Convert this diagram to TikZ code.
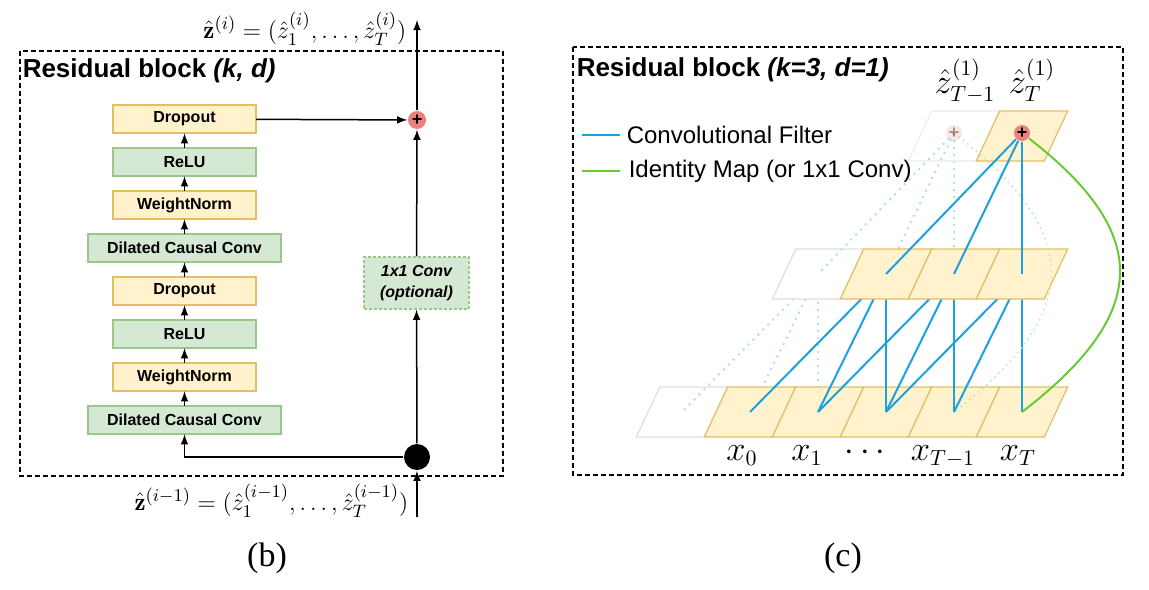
\documentclass[tikz,border=0pt]{standalone}
\usepackage{fontspec}
\usepackage{amsmath}
\usetikzlibrary{scopes,chains,positioning,calc}
\newfontfamily\helv{Liberation Sans}
\newfontfamily\capfont{Liberation Serif}
\definecolor{yfill}{HTML}{FFF2CC}
\definecolor{yline}{HTML}{E3BE62}
\definecolor{gfill}{HTML}{D5E8D4}
\definecolor{gline}{HTML}{9CC78B}
\definecolor{addred}{HTML}{E9817D}
\definecolor{convblue}{HTML}{1BA1E2}
\definecolor{idgreen}{HTML}{66CC33}
\def\drawcell#1{
   \draw[#1] (-45.7,25) -- ++(68,0) -- ++(23.4,-50) -- ++(-68,0) -- cycle;
 }
\begin{document}
\begin{tikzpicture}[x=0.5pt, y=-0.5pt,
    line width    = 0.75pt,
    >             = latex,
    node distance = 7.25pt,
    lay/.style   = { draw, line width=1pt, minimum height=14.25pt, inner sep=0pt,
                     outer sep=0pt, font=\helv\bfseries\fontsize{8}{9}\selectfont, on chain },
    ylay/.style  = { lay, fill=yfill, draw=yline, minimum width=71.5pt },
    glay/.style  = { lay, fill=gfill, draw=gline, minimum width=71.5pt },
    glay wide/.style = { glay, minimum width=96.5pt },
    optconv/.style = { draw=gline, fill=gfill, dash pattern=on 1.5pt off 1pt,
                     minimum width=52.5pt, minimum height=26pt, align=center, inner sep=0pt,
                     font=\helv\bfseries\itshape\fontsize{8}{10.5}\selectfont },
    adder/.style = { circle, fill=addred, minimum size=9pt, inner sep=0pt,
                     font=\helv\bfseries\fontsize{9}{9}\selectfont },
    fork/.style  = { circle, fill=black, minimum size=13pt, inner sep=0pt },
    blockframe/.style = { line width=1pt, dash pattern=on 2.4pt off 1.6pt },
    title/.style = { anchor=west, inner sep=0pt, font=\helv\bfseries\fontsize{13}{15}\selectfont },
    legtext/.style = { anchor=west, inner sep=0pt, font=\helv\fontsize{12}{14}\selectfont },
    mathlbl/.style = { inner sep=0pt, font=\fontsize{12.5}{14}\selectfont },
    zlbl/.style  = { anchor=base, inner sep=0pt, font=\fontsize{16}{18}\selectfont },
    caption/.style = { font=\capfont\fontsize{17}{20}\selectfont },
    % cells of the dilated convolution
    ycell/.style = { draw=yline, fill=yfill, line width=0.6pt },
    wcell/.style = { draw=black!13, line width=0.6pt },
    conv line/.style  = { convblue, line width=1pt },
    conv ghost/.style = { convblue!35, line width=1pt, dash pattern=on 1pt off 2.5pt },
    id line/.style    = { idgreen, line width=1pt },
    id ghost/.style   = { idgreen!40, line width=0.8pt, dash pattern=on 0.8pt off 2pt }
]
\useasboundingbox (0,0) rectangle (1149,589);

%% (b) residual block
\draw[blockframe] (20,51) rectangle (503,476);
\node[title] (titleb) at (22,71) {Residual block \textit{(k, d)}};

{ [start chain=tcn going above]
  \node[glay wide] at (184.5,420) {Dilated Causal Conv};
  \foreach \t/\txt in {ylay/WeightNorm, glay/ReLU, ylay/Dropout, glay wide/Dilated Causal Conv,
        ylay/WeightNorm, glay/ReLU, ylay/Dropout} \node[\t] {\txt};
}
\foreach \n [evaluate=\n as \m using int(\n+1)] in {1,...,7}
  \draw[->] (tcn-\n) -- (tcn-\m);

\node[adder] (add) at (417,120) {+};
\node[optconv] (conv1) at (416.5,283) {1x1 Conv\\(optional)};
\node[fork] (fork) at (417,457) {};
\coordinate (zin)  at (417,517);
\coordinate (zout) at (417,20);

\draw[->] (zin) -- (fork);
\draw[->] (fork) -- (conv1);
\draw[->] (conv1) -- (add);
\draw[->] (add) -- (zout);
\draw[->] (fork) -| (tcn-1);
\draw[->] (tcn-8) -- (add);

\node[mathlbl, anchor=base east] (lout) at (407,38)
  {$\hat{\mathbf{z}}^{(i)} = (\hat{z}^{(i)}_1, \ldots, \hat{z}^{(i)}_T)$};
\node[mathlbl, anchor=base east] (lin) at (409,510)
  {$\hat{\mathbf{z}}^{(i-1)} = (\hat{z}^{(i-1)}_1, \ldots, \hat{z}^{(i-1)}_T)$};
\node[caption] (capb) at (267,558) {(b)};

%% (c) dilated causal convolution
\draw[blockframe] (573,47) rectangle (1123,475);
\node[title] (titlec) at (576,70) {Residual block \textit{(k=3, d=1)}};

\coordinate (lc) at (582,135);
\node[legtext] (lconv) at (626,135) {Convolutional Filter};
\draw[conv line] (lc) -- ([xshift=-3pt]lconv.west);
\coordinate (li) at (582,171);
\node[legtext] (lid) at (628,171) {Identity Map (or 1x1 Conv)};
\draw[id line] (li) -- ([xshift=-4pt]lid.west);

\foreach \c [count=\n from 0] in {682,750,818,886,954,1022} \coordinate (b\n) at (\c,412);
\foreach \c [count=\n from 0] in {818,886,954,1022} \coordinate (m\n) at (\c,274);
\coordinate (tc0) at (954,133);
\coordinate (tc1) at (1022,133);

% receptive field of the faded output
\draw[conv ghost] (tc0) -- (m1) (tc0) -- (m2);
\foreach \n in {0,1,2} \draw[conv ghost] (m0) -- (b\n);

% input row
\drawcell{wcell,shift={(b0)}}
\foreach \n in {1,...,5} {\drawcell{ycell,shift={(b\n)}}}

\foreach \m in {1,2,3}
  \foreach \k in {0,1,2}
  { \pgfmathtruncatemacro\n{\m+\k}
    \draw[conv line] (m\m) -- (b\n); }

% hidden row
\drawcell{wcell,fill=white,shift={(m0)}}
\foreach \n in {1,2,3} {\drawcell{ycell,shift={(m\n)}}}
\draw[conv ghost] (tc0) -- (m0);

% output row
\drawcell{wcell,draw=black!8,shift={(954,136)}}
\drawcell{ycell,shift={(1022,136)}}
\draw[id ghost] (tc0) .. controls (1083,233) and (1084,312) .. (b4);

\node[adder, minimum size=8pt, fill opacity=0.2, text opacity=0.35] (t0) at (tc0) {+};
\node[adder, minimum size=8pt] (t1) at (tc1) {+};
\foreach \n in {1,2,3} \draw[conv line] (t1) -- (m\n);
\draw[id line] (t1) .. controls (1151,233) and (1152,312) .. (b5);

\node[zlbl] (zt0) at (965,93) {$\hat{z}^{(1)}_{T-1}$};
\node[zlbl] (zt1) at (1032,93) {$\hat{z}^{(1)}_{T}$};
\foreach \lbl/\xx [count=\n] in {x_0/742, x_1/807, \cdots/868, x_{T-1}/943, x_T/1018}
  \node[zlbl] (x\n) at (\xx,460) {$\lbl$};
\node[caption] (capc) at (843,558) {(c)};

\end{tikzpicture}
\end{document}
